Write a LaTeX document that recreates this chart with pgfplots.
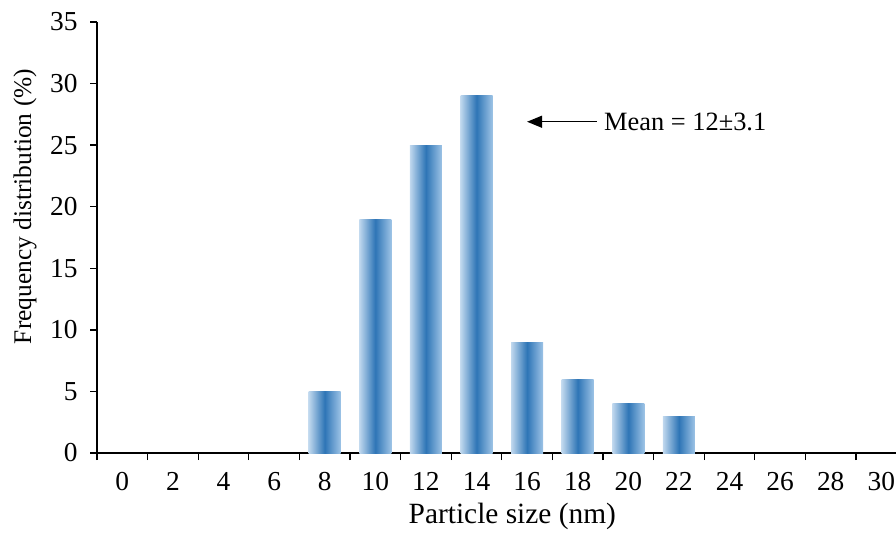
\documentclass[border=0pt]{standalone}
\usepackage{pgfplots}
\pgfplotsset{compat=1.18}
\usepackage{fontspec}
\setmainfont{Liberation Serif}
\usetikzlibrary{arrows.meta}
\definecolor{barL}{HTML}{C0D8EE}
\definecolor{barM}{HTML}{2E75B6}
\definecolor{barR}{HTML}{9DC3E6}
\pgfplotsset{gbar/.style={ybar, bar width=32bp, bar shift=0pt, draw=none, left color=barL, right color=barR, middle color=barM}}
\begin{document}
\begin{tikzpicture}
\begin{axis}[
  scale only axis,
  width=809.6bp, height=431bp,
  xmin=-0.5, xmax=15.5,
  ymin=0, ymax=35,
  ytick={0,5,...,35},
  xtick={-0.5,0.5,...,15.5},
  x tick label as interval,
  xticklabels={0,2,4,6,8,10,12,14,16,18,20,22,24,26,28,30},
  axis lines*=left,
  axis line style={line width=1.3bp, black},
  tick style={line width=1.3bp, black},
  tick align=outside,
  major tick length=7bp,
  font=\fontsize{27}{32}\selectfont,
  tick label style={font=\fontsize{27.5}{32}\selectfont},
  yticklabel style={xshift=-9bp},
  xticklabel style={yshift=-9bp},
  /pgf/number format/assume math mode=true,
  xlabel={Particle size (nm)},
  ylabel={Frequency distribution (\%)},
  xlabel style={at={(axis description cs:0.513,0)}, anchor=base, yshift=-70bp, font=\fontsize{29.5}{34}\selectfont},
  ylabel style={at={(axis description cs:-0.0815,0.572)}, anchor=base, font=\fontsize{25.5}{30}\selectfont},
  clip=false,
]
\addplot[gbar] coordinates {(4,5)};
\addplot[gbar] coordinates {(5,19)};
\addplot[gbar] coordinates {(6,25)};
\addplot[gbar] coordinates {(7,29)};
\addplot[gbar] coordinates {(8,9)};
\addplot[gbar] coordinates {(9,6)};
\addplot[gbar] coordinates {(10,4)};
\addplot[gbar] coordinates {(11,3)};
\draw[line width=1.3bp, -{Triangle[length=15bp,width=12bp]}] (axis cs:9.38,26.9) -- (axis cs:8.0,26.9);
\node[anchor=west, inner sep=0pt, font=\fontsize{26.5}{30}\selectfont] at (axis cs:9.52,26.9) {Mean = 12±3.1};
\end{axis}
\pgfresetboundingbox
\useasboundingbox (-97bp,-80bp) rectangle (799bp,453bp);
\end{tikzpicture}
\end{document}
